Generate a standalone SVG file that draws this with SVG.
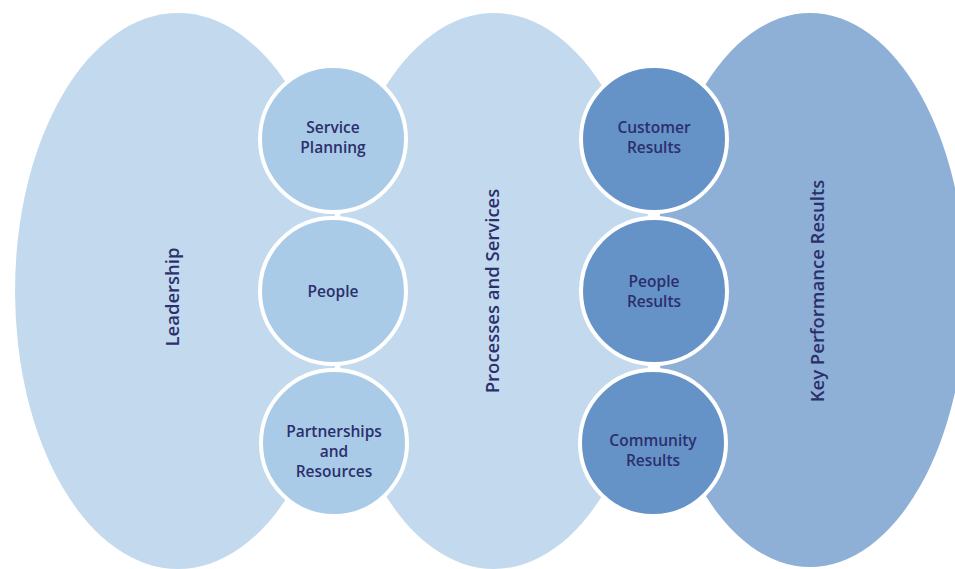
<svg xmlns="http://www.w3.org/2000/svg" width="955" height="569" viewBox="0 0 955 569">
<style>
.big{fill:#c3daee}
.kpr{fill:#8fb0d6}
.lc{fill:#a9cbe7;stroke:#ffffff;stroke-width:4}
.rc{fill:#6593c8;stroke:#ffffff;stroke-width:4}
text{font-family:"Open Sans","DejaVu Sans",sans-serif;font-weight:600;fill:#2b2f6c;text-anchor:middle}
.ct{font-size:15.5px}
.vt{font-size:18.5px}
</style>
<rect width="955" height="569" fill="#ffffff"/>
<g id="leadership">
<ellipse class="big" cx="178" cy="291" rx="163" ry="278"/>
<text class="vt" transform="translate(179,297) rotate(-90)">Leadership</text>
</g>
<g id="processes">
<ellipse class="big" cx="494" cy="291" rx="160" ry="278"/>
<text class="vt" transform="translate(499,291) rotate(-90)">Processes and Services</text>
</g>
<g id="kpr">
<ellipse class="kpr" cx="810" cy="290" rx="156" ry="277"/>
<text class="vt" transform="translate(824,291) rotate(-90)">Key  Performance Results</text>
</g>
<g id="service-planning">
<circle class="lc" cx="333" cy="139" r="73"/>
<text class="ct" x="333" y="133">Service</text>
<text class="ct" x="333" y="153">Planning</text>
</g>
<g id="people">
<circle class="lc" cx="333" cy="291" r="73"/>
<text class="ct" x="333" y="297">People</text>
</g>
<g id="partnerships">
<circle class="lc" cx="334" cy="443" r="73"/>
<text class="ct" x="334" y="437">Partnerships</text>
<text class="ct" x="334" y="457">and</text>
<text class="ct" x="334" y="477">Resources</text>
</g>
<g id="customer-results">
<circle class="rc" cx="654" cy="139" r="73"/>
<text class="ct" x="654" y="133">Customer</text>
<text class="ct" x="654" y="153">Results</text>
</g>
<g id="people-results">
<circle class="rc" cx="654" cy="291" r="73"/>
<text class="ct" x="654" y="287">People</text>
<text class="ct" x="654" y="307">Results</text>
</g>
<g id="community-results">
<circle class="rc" cx="653" cy="443" r="73"/>
<text class="ct" x="653" y="446">Community</text>
<text class="ct" x="653" y="466">Results</text>
</g>
<g id="connectors"></g>
</svg>
